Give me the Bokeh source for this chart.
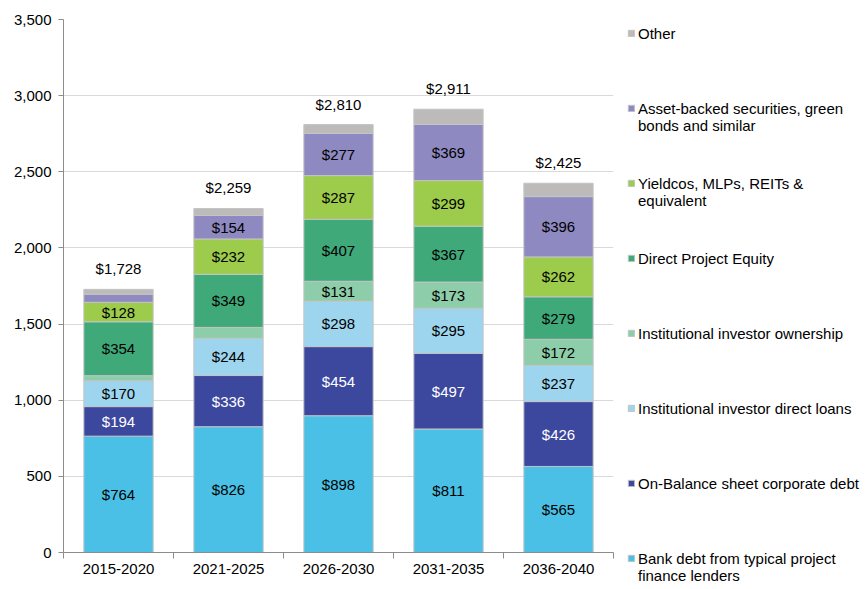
from bokeh.plotting import figure
from bokeh.models import (ColumnDataSource, FixedTicker, NumeralTickFormatter, Legend,
                          LegendItem, LabelSet, Range1d)
from bokeh.core.properties import value
from bokeh.embed import file_html
from bokeh.resources import INLINE

categories = ["2015-2020", "2021-2025", "2026-2030", "2031-2035", "2036-2040"]
series = [
    "Bank debt from typical project\nfinance lenders",
    "On-Balance sheet corporate debt",
    "Institutional investor direct loans",
    "Institutional investor ownership",
    "Direct Project Equity",
    "Yieldcos, MLPs, REITs &\nequivalent",
    "Asset-backed securities, green\nbonds and similar",
    "Other",
]
bank_debt = [764, 826, 898, 811, 565]
on_balance = [194, 336, 454, 497, 426]
inst_loans = [170, 244, 298, 295, 237]
inst_own = [33, 72, 131, 173, 172]
project_equity = [354, 349, 407, 367, 279]
yieldcos = [128, 232, 287, 299, 262]
abs_bonds = [53, 154, 277, 369, 396]
other = [32, 46, 58, 100, 88]
totals = [1728, 2259, 2810, 2911, 2425]
y_ticks = [0, 500, 1000, 1500, 2000, 2500, 3000, 3500]

colors = ["#4AC0E6", "#3C479E", "#9DD5EE", "#8ECDA9", "#3FA97A", "#9DCB4B", "#8E89C0", "#BDBBBA"]
label_colors = ["black", "white", "black", "black", "black", "black", "black", "black"]
values = [bank_debt, on_balance, inst_loans, inst_own, project_equity, yieldcos, abs_bonds, other]

FONT = "Liberation Sans"
FS = "15px"

p = figure(frame_width=550, frame_height=533, output_backend="svg", toolbar_location=None,
           x_range=Range1d(0, len(categories)), y_range=Range1d(0, 3500),
           min_border_left=63, min_border_right=10, min_border_top=19, min_border_bottom=34)
p.outline_line_color = None
p.background_fill_color = "white"
p.xgrid.visible = False
p.ygrid.grid_line_color = "#D9D9D9"
p.ygrid.grid_line_width = 1

xs = [i + 0.5 for i in range(len(categories))]
bottoms = [0] * len(categories)
renderers = []
lab_x, lab_y, lab_t, lab_c = [], [], [], []
for name, vals, col, lc in zip(series, values, colors, label_colors):
    tops = [b + v for b, v in zip(bottoms, vals)]
    src = ColumnDataSource(dict(x=xs, bottom=bottoms, top=tops))
    r = p.vbar(x="x", bottom="bottom", top="top", width=0.63, source=src,
               fill_color=col, line_color="#C4C4C4", line_width=1)
    renderers.append((name, r))
    if name != "Other":
        for x, b, v in zip(xs, bottoms, vals):
            if v >= 100:
                lab_x.append(x)
                lab_y.append(b + v / 2)
                lab_t.append("$" + str(v))
                lab_c.append(lc)
    bottoms = tops

lab_src = ColumnDataSource(dict(x=lab_x, y=lab_y, t=lab_t, c=lab_c))
p.add_layout(LabelSet(x="x", y="y", text="t", source=lab_src, text_align="center",
                      text_baseline="middle", text_font=value(FONT), text_font_size=FS,
                      text_color="c"))

tot_src = ColumnDataSource(dict(x=xs, y=totals, t=["$" + f"{t:,}" for t in totals]))
p.add_layout(LabelSet(x="x", y="y", text="t", source=tot_src, text_align="center",
                      text_baseline="bottom", y_offset=12, text_font=value(FONT),
                      text_font_size=FS, text_color="black"))

# axes
p.yaxis.ticker = FixedTicker(ticks=y_ticks)
p.yaxis.formatter = NumeralTickFormatter(format="0,0")
p.yaxis.axis_line_color = "#8C8C8C"
p.yaxis.major_tick_line_color = "#8C8C8C"
p.yaxis.major_tick_out = 5
p.yaxis.major_tick_in = 0
p.yaxis.minor_tick_line_color = None
p.yaxis.major_label_standoff = 7
p.yaxis.major_label_text_font = FONT
p.yaxis.major_label_text_font_size = FS
p.yaxis.major_label_text_color = "black"

p.xaxis.ticker = FixedTicker(ticks=xs, minor_ticks=list(range(len(categories) + 1)))
p.xaxis.major_label_overrides = {x: c for x, c in zip(xs, categories)}
p.xaxis.axis_line_color = "#8C8C8C"
p.xaxis.major_tick_line_color = None
p.xaxis.major_tick_out = 0
p.xaxis.major_tick_in = 0
p.xaxis.minor_tick_line_color = "#8C8C8C"
p.xaxis.minor_tick_out = 6
p.xaxis.minor_tick_in = 0
p.xaxis.major_label_standoff = 5
p.xaxis.major_label_text_font = FONT
p.xaxis.major_label_text_font_size = FS
p.xaxis.major_label_text_color = "black"

# every legend label made three lines tall (blank first line) so the swatch,
# which is centred on the label block, sits beside the first text line
items = []
for n, r in reversed(renderers):
    body = n if "\n" in n else n + "\n\u00a0"
    items.append(LegendItem(label="\u00a0\n" + body, renderers=[r]))
legend = Legend(items=items, location=(14, -33), orientation="vertical",
                glyph_width=8, glyph_height=8, label_text_font=FONT,
                label_text_font_size=FS, label_text_color="black",
                spacing=21, padding=0, margin=0, border_line_color=None,
                background_fill_alpha=0, label_standoff=3, label_height=54)
p.add_layout(legend, "right")

open("out.html", "w").write(file_html(p, INLINE))
